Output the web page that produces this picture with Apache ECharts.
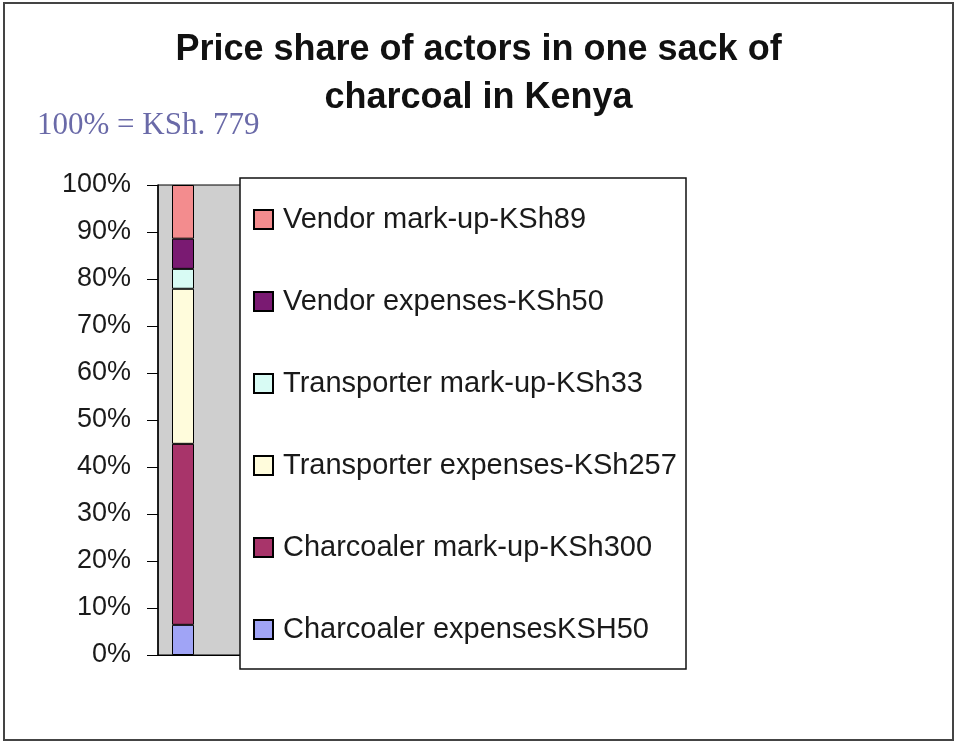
<!DOCTYPE html>
<html>
<head>
<meta charset="utf-8">
<script src="https://cdn.jsdelivr.net/npm/echarts@6/dist/echarts.min.js"></script>
<style>
  html, body { margin: 0; padding: 0; background: #fff; }
  #main { width: 957px; height: 744px; }
</style>
</head>
<body>
<div id="main"></div>
<script>
// actors, bottom of the bar first
var actors = [
    'Charcoaler expensesKSH50',
    'Charcoaler mark-up-KSh300',
    'Transporter expenses-KSh257',
    'Transporter mark-up-KSh33',
    'Vendor expenses-KSh50',
    'Vendor mark-up-KSh89'
];
// price of each part, KSh (sum = 779)
var kshValues = [50, 300, 257, 33, 50, 89];
var categories = ['Kenya'];
var colors = ['#a0a4f6', '#a8346a', '#fffcdc', '#d8fbf4', '#7a1a72', '#f38c8e'];
var yTicks = [0, 10, 20, 30, 40, 50, 60, 70, 80, 90, 100];

var total = kshValues.reduce(function (a, b) { return a + b; }, 0);

var myChart = echarts.init(document.getElementById('main'));

var series = actors.map(function (name, i) {
    return {
        name: name,
        type: 'bar',
        stack: 'price',
        barWidth: 22,
        itemStyle: { color: colors[i], borderColor: '#000', borderWidth: 1 },
        data: [kshValues[i] / total * 100]
    };
});

var option = {
    animation: false,
    backgroundColor: '#fff',
    title: [
        {
            text: 'Price share of actors in one sack of\ncharcoal in Kenya',
            left: 'center',
            top: 26,
            padding: 0,
            textStyle: {
                fontFamily: 'Liberation Sans, Arial',
                fontWeight: 'bold',
                fontSize: 36,
                lineHeight: 48,
                color: '#111'
            }
        },
        {
            text: '100% = KSh. ' + total,
            left: 37,
            top: 110,
            padding: 0,
            textStyle: {
                fontFamily: 'Liberation Serif, Times New Roman',
                fontWeight: 'normal',
                fontSize: 31,
                color: '#6a6aa8'
            }
        }
    ],
    graphic: [
        {   // outer chart border
            type: 'rect',
            shape: { x: 4, y: 3, width: 949, height: 737 },
            style: { fill: null, stroke: '#444', lineWidth: 2 },
            z: 0
        },
        {   // legend box, sits over the plot area
            type: 'rect',
            shape: { x: 240, y: 178, width: 446, height: 491 },
            style: { fill: '#fff', stroke: '#111', lineWidth: 1.5 },
            z: 10
        }
    ],
    legend: {
        orient: 'vertical',
        left: 253,
        top: 204,
        padding: 0,
        z: 20,
        itemWidth: 19,
        itemHeight: 19,
        itemGap: 51,
        icon: 'rect',
        data: actors.slice().reverse(),
        textStyle: {
            fontFamily: 'Liberation Sans, Arial',
            fontSize: 29,
            lineHeight: 31,
            color: '#1a1a1a',
            padding: [0, 0, 0, 5]
        }
    },
    grid: {
        left: 158,
        top: 185,
        width: 100,
        height: 470,
        show: true,
        backgroundColor: '#cfcfcf',
        borderColor: '#000',
        borderWidth: 1
    },
    xAxis: {
        type: 'category',
        data: categories,
        max: 1,
        axisTick: { show: false },
        axisLabel: { show: false },
        axisLine: { lineStyle: { color: '#000', width: 1 } }
    },
    yAxis: {
        type: 'value',
        min: yTicks[0],
        max: yTicks[yTicks.length - 1],
        interval: 10,
        splitLine: { show: false },
        axisLine: { show: true, lineStyle: { color: '#000', width: 1.5 } },
        axisTick: { show: true, length: 11, lineStyle: { color: '#000' } },
        axisLabel: {
            margin: 27,
            formatter: '{value}%',
            fontFamily: 'Liberation Sans, Arial',
            fontSize: 27,
            color: '#1a1a1a'
        }
    },
    series: series
};

myChart.setOption(option);
window.onresize = myChart.resize;
</script>
</body>
</html>
